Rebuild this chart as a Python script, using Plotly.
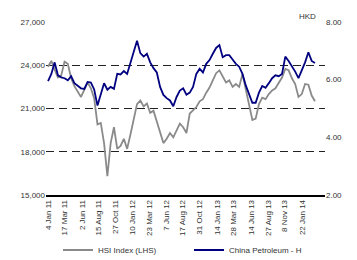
import pandas as pd
import plotly.graph_objects as go

# sample dates (evenly spaced across the chart's span)
dates = pd.date_range("2011-01-04", "2014-03-20", periods=82)

hsi = [23900, 24300, 23700, 23150, 23300, 24250, 24100, 23100, 22550, 22150,
       21800, 22300, 22800, 22400, 21700, 19900, 20000, 18600, 16300, 18600,
       19700, 18200, 18400, 18900, 18200, 19200, 20300, 21300, 21550, 21150,
       21350, 20700, 20850, 20150, 19300, 18600, 18900, 19300, 19000, 19500,
       19950, 19700, 19300, 20650, 20900, 21100, 21500, 21650, 22100, 22450,
       22950, 23450, 23650, 23200, 22800, 22950, 22500, 22700, 22500, 23400,
       22300, 21100, 20200, 20300, 21300, 21750, 21650, 22000, 22250, 22400,
       22750, 23150, 23750, 23650, 23100, 22700, 21800, 22000, 22700, 22650,
       21900, 21500]

cp = [5.95, 6.20, 6.60, 6.15, 6.08, 6.05, 5.98, 6.12, 5.88, 5.78,
      5.70, 5.68, 5.92, 5.90, 5.66, 5.10, 5.50, 5.88, 5.65, 5.75,
      5.68, 6.20, 6.18, 6.30, 6.20, 6.60, 6.95, 7.35, 6.92, 6.80,
      6.90, 6.60, 6.40, 6.25, 5.75, 5.47, 5.36, 5.28, 5.08, 5.40,
      5.62, 5.70, 5.48, 5.55, 5.75, 6.20, 6.38, 6.25, 6.55, 6.68,
      6.90, 7.10, 7.20, 6.78, 6.85, 6.85, 6.70, 6.55, 6.45, 6.20,
      5.80, 5.50, 5.20, 5.20, 5.55, 5.78, 5.72, 5.88, 6.05, 6.15,
      6.12, 6.20, 6.80, 6.65, 6.48, 6.28, 6.05, 6.30, 6.60, 6.95,
      6.65, 6.58]

tick_dates = ["2011-01-04", "2011-03-17", "2011-06-02", "2011-08-15", "2011-10-27",
              "2012-01-10", "2012-03-23", "2012-06-07", "2012-08-17", "2012-10-31",
              "2013-01-14", "2013-03-28", "2013-06-14", "2013-08-27", "2013-11-08",
              "2014-01-22"]
tick_labels = ["4 Jan 11", "17 Mar 11", "2 Jun 11", "15 Aug 11", "27 Oct 11",
               "10 Jan 12", "23 Mar 12", "7 Jun 12", "17 Aug 12", "31 Oct 12",
               "14 Jan 13", "28 Mar 13", "14 Jun 13", "27 Aug 13", "8 Nov 13",
               "22 Jan 14"]

left_ticks = [15000, 18000, 21000, 24000, 27000]
right_ticks = [2, 4, 6, 8]

font = dict(family="Liberation Sans, Arial, sans-serif", size=8, color="#333333")

fig = go.Figure()
fig.add_trace(go.Scatter(x=dates, y=hsi, name="HSI Index (LHS)", mode="lines",
                         line=dict(color="#8a8a8a", width=1.8), yaxis="y",
                         legend="legend"))
fig.add_trace(go.Scatter(x=dates, y=cp, name="China Petroleum - H", mode="lines",
                         line=dict(color="#000080", width=1.8), yaxis="y2",
                         legend="legend2"))

legend_common = dict(orientation="h", xref="container", yref="container",
                     y=10 / 260, xanchor="left", yanchor="middle",
                     itemwidth=30, font=font, bgcolor="rgba(0,0,0,0)")

fig.update_layout(
    width=357, height=260,
    margin=dict(l=46, r=32, t=22, b=65, autoexpand=False),
    paper_bgcolor="white", plot_bgcolor="white",
    font=font,
    showlegend=True,
    legend=dict(x=58 / 357, **legend_common),
    legend2=dict(x=189 / 357, **legend_common),
    xaxis=dict(type="date", range=["2010-12-26", "2014-05-03"],
               tickvals=tick_dates, ticktext=tick_labels, tickangle=-90,
               showgrid=False, zeroline=False, showline=True,
               linecolor="#000000", linewidth=1.5, ticks="", tickfont=font),
    yaxis=dict(range=[15000, 27000], tickvals=left_ticks,
               ticktext=[f"{v:,}" for v in left_ticks],
               showgrid=True, gridcolor="#222222", gridwidth=1, griddash="8px,5px",
               zeroline=False, showline=False, ticks="", tickfont=font),
    yaxis2=dict(range=[2, 8], tickvals=right_ticks,
                ticktext=[f"{v:.2f}" for v in right_ticks],
                overlaying="y", side="right", showgrid=False, zeroline=False,
                showline=False, ticks="", tickfont=font),
    annotations=[dict(text="HKD", x=0.975, y=1.07, xref="paper", yref="paper",
                      showarrow=False, font=font)],
)

fig.write_html("out.html", config={"displayModeBar": False},
               post_script="document.body.style.margin='0';")
